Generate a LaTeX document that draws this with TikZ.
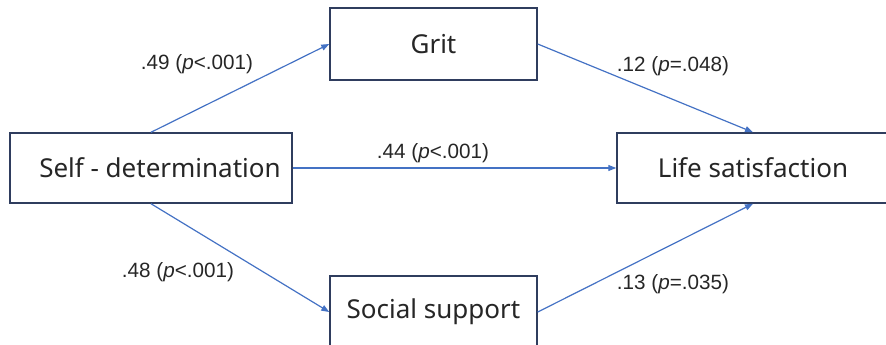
\documentclass[tikz,border=0pt]{standalone}
\usepackage{fontspec}
\setmainfont{Noto Sans}
\newfontfamily\labelfont{Liberation Sans}
\usetikzlibrary{positioning,arrows.meta}
\definecolor{boxline}{HTML}{2F3D5E}
\definecolor{pathblue}{HTML}{4472C4}

\begin{document}
\begin{tikzpicture}[x=0.75pt, y=-0.75pt,
    varbox/.style={draw=boxline, line width=1.1pt, fill=white, inner sep=0pt,
        font=\fontsize{19.5}{22}\selectfont, text=black!85},
    path/.style={draw=pathblue, line width=0.9pt, -{Triangle[length=6pt, width=4.5pt]}},
    coef/.style={font=\labelfont\fontsize{15.5}{18}\selectfont, text=black!85}]
    \useasboundingbox (0,0) rectangle (886,344);

    % Variables
    \node[varbox, minimum width=282*0.75pt, minimum height=70*0.75pt] (selfdet) at (151,168) {\hspace{13.5pt}Self - determination};
    \node[varbox, minimum width=207*0.75pt, minimum height=72*0.75pt] (grit) at (433.5,44) {Grit};
    \node[varbox, minimum width=207*0.75pt, minimum height=72*0.75pt] (social) at (433.5,312) {Social support};
    \node[varbox, minimum width=272*0.75pt, minimum height=70*0.75pt] (life) at (753,168) {Life satisfaction};

    % Paths
    \draw[path] (selfdet.north) -- (grit.west);
    \draw[path] (grit.east) -- (life.north);
    \draw[path] (selfdet.east) -- (life.west);
    \draw[path] (selfdet.south) -- (social.west);
    \draw[path] (social.east) -- (life.south);

    % Coefficients
    \node[coef] (c1) at (197,64) {.49 (\textit{p}<.001)};
    \node[coef] (c2) at (673,66) {.12 (\textit{p}=.048)};
    \node[coef] (c3) at (433,153) {.44 (\textit{p}<.001)};
    \node[coef] (c4) at (178,272) {.48 (\textit{p}<.001)};
    \node[coef] (c5) at (673,284) {.13 (\textit{p}=.035)};
\end{tikzpicture}
\end{document}
